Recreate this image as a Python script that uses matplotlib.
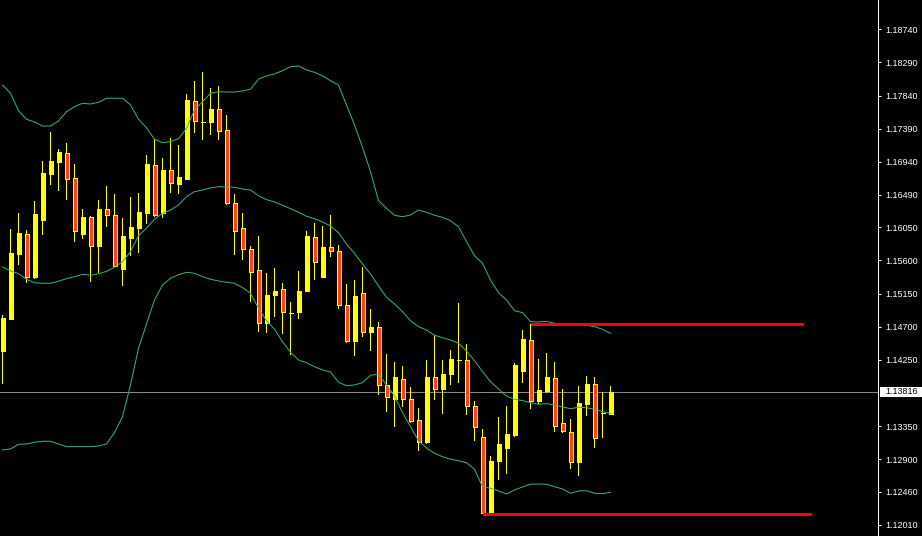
import matplotlib
matplotlib.use("Agg")
import matplotlib.pyplot as plt
from matplotlib.patches import Rectangle
from matplotlib.transforms import blended_transform_factory

plt.rcParams['font.family'] = ['Liberation Sans', 'DejaVu Sans']

# ---------------- data ----------------
opens = [1.14374, 1.14804, 1.15692, 1.15959, 1.15375, 1.16149, 1.16774, 1.16937, 1.17060, 1.16720,
         1.15963, 1.16190, 1.15800, 1.16299, 1.16217, 1.15484, 1.15909, 1.16041, 1.16244, 1.16897,
         1.16249, 1.16829, 1.16642, 1.16706, 1.17762, 1.17481, 1.17481, 1.17657, 1.17372, 1.16376,
         1.16037, 1.15751, 1.15466, 1.14754, 1.15126, 1.15208, 1.14890, 1.14895, 1.15181, 1.15918,
         1.15379, 1.15778, 1.15724, 1.14991, 1.14510, 1.15154, 1.14632, 1.14692, 1.13904, 1.13714,
         1.13985, 1.13714, 1.13428, 1.13129, 1.14012, 1.13858, 1.14053, 1.14247, 1.14243, 1.13618,
         1.13197, 1.12165, 1.12879, 1.13056, 1.13229, 1.14095, 1.14519, 1.13695, 1.13822, 1.13999,
         1.13388, 1.13265, 1.12866, 1.13650, 1.13917, 1.13523, 1.13518]
highs = [1.14859, 1.16027, 1.16244, 1.16013, 1.16407, 1.16951, 1.17345, 1.17114, 1.17195, 1.16910,
         1.16299, 1.16208, 1.16421, 1.16611, 1.16503, 1.16177, 1.16462, 1.16516, 1.17032, 1.17250,
         1.16992, 1.17263, 1.17168, 1.17861, 1.18038, 1.18156, 1.17943, 1.17970, 1.17576, 1.16503,
         1.16244, 1.15796, 1.15932, 1.15429, 1.15497, 1.15293, 1.15035, 1.15457, 1.16000, 1.16109,
         1.16068, 1.16217, 1.15810, 1.15280, 1.15334, 1.15515, 1.14940, 1.14764, 1.14329, 1.14220,
         1.14166, 1.13877, 1.13599, 1.14247, 1.14583, 1.14247, 1.14383, 1.15018, 1.14465, 1.13686,
         1.13306, 1.12943, 1.13473, 1.13623, 1.14211, 1.14655, 1.14737, 1.14261, 1.14343, 1.14220,
         1.13853, 1.13446, 1.13894, 1.14030, 1.14017, 1.13817, 1.13894]
lows = [1.13921, 1.14791, 1.15538, 1.15298, 1.15348, 1.15946, 1.16625, 1.16543, 1.16425, 1.15855,
        1.15891, 1.15311, 1.15425, 1.16058, 1.15511, 1.15257, 1.15664, 1.15705, 1.16095, 1.16194,
        1.16181, 1.16516, 1.16503, 1.16693, 1.17335, 1.17236, 1.17304, 1.17236, 1.16353, 1.15674,
        1.15606, 1.15039, 1.14632, 1.14618, 1.14836, 1.14597, 1.14315, 1.14800, 1.15171, 1.15338,
        1.15372, 1.15651, 1.14944, 1.14482, 1.14306, 1.14556, 1.14374, 1.13772, 1.13545, 1.13341,
        1.13613, 1.13388, 1.13015, 1.13106, 1.13704, 1.13518, 1.13912, 1.13939, 1.13504, 1.13151,
        1.12159, 1.12162, 1.12617, 1.12703, 1.13205, 1.13939, 1.13586, 1.13650, 1.13795, 1.13273,
        1.13252, 1.12771, 1.12676, 1.13491, 1.13056, 1.13192, 1.13500]
closes = [1.14814, 1.15701, 1.15973, 1.15371, 1.16231, 1.16788, 1.16951, 1.17073, 1.16710, 1.16004,
          1.16190, 1.15800, 1.16299, 1.16221, 1.15524, 1.15932, 1.16054, 1.16258, 1.16910, 1.16221,
          1.16829, 1.16648, 1.16734, 1.17780, 1.17490, 1.17481, 1.17657, 1.17362, 1.16376, 1.16000,
          1.15751, 1.15439, 1.14746, 1.15126, 1.15185, 1.14895, 1.14890, 1.15185, 1.15932, 1.15575,
          1.15783, 1.15724, 1.14991, 1.14510, 1.15113, 1.14624, 1.14692, 1.13904, 1.13741, 1.14012,
          1.13714, 1.13415, 1.13129, 1.14012, 1.13858, 1.14053, 1.14257, 1.14247, 1.13618, 1.13333,
          1.12165, 1.12871, 1.13106, 1.13242, 1.14180, 1.14533, 1.13686, 1.13840, 1.14012, 1.13347,
          1.13279, 1.12858, 1.13659, 1.13921, 1.13184, 1.13523, 1.13816]

upper_band = [1.17983, 1.17871, 1.17634, 1.17517, 1.17481, 1.17426, 1.17426, 1.17494, 1.17621, 1.17689,
              1.17735, 1.17725, 1.17748, 1.17803, 1.17803, 1.17803, 1.17712, 1.17517, 1.17403, 1.17246,
              1.17199, 1.17213, 1.17254, 1.17395, 1.17644, 1.17756, 1.17871, 1.17892, 1.17888, 1.17888,
              1.17902, 1.17925, 1.18065, 1.18106, 1.18133, 1.18178, 1.18232, 1.18241, 1.18187, 1.18156,
              1.18106, 1.18042, 1.17983, 1.17712, 1.17440, 1.17137, 1.16806, 1.16412, 1.16308, 1.16213,
              1.16194, 1.16217, 1.16285, 1.16254, 1.16213, 1.16186, 1.16140, 1.16058, 1.15855, 1.15664,
              1.15561, 1.15334, 1.15162, 1.15063, 1.14917, 1.14890, 1.14768, 1.14764, 1.14773, 1.14746,
              1.14719, 1.14719, 1.14719, 1.14719, 1.14700, 1.14665, 1.14610]
middle_band = [1.15511, 1.15457, 1.15420, 1.15344, 1.15298, 1.15289, 1.15289, 1.15317, 1.15352, 1.15379,
               1.15412, 1.15398, 1.15416, 1.15452, 1.15507, 1.15583, 1.15719, 1.15936, 1.16037, 1.16159,
               1.16240, 1.16285, 1.16353, 1.16466, 1.16534, 1.16557, 1.16584, 1.16602, 1.16598, 1.16594,
               1.16570, 1.16557, 1.16479, 1.16425, 1.16394, 1.16349, 1.16303, 1.16254, 1.16200, 1.16167,
               1.16122, 1.16068, 1.15977, 1.15823, 1.15697, 1.15552, 1.15416, 1.15253, 1.15099, 1.15008,
               1.14904, 1.14781, 1.14700, 1.14655, 1.14583, 1.14550, 1.14519, 1.14474, 1.14370, 1.14238,
               1.14089, 1.13953, 1.13853, 1.13758, 1.13714, 1.13695, 1.13667, 1.13646, 1.13654, 1.13636,
               1.13609, 1.13586, 1.13605, 1.13599, 1.13578, 1.13545, 1.13523]
lower_band = [1.13025, 1.13038, 1.13102, 1.13106, 1.13129, 1.13143, 1.13143, 1.13106, 1.13070, 1.13070,
              1.13070, 1.13070, 1.13079, 1.13106, 1.13260, 1.13477, 1.13908, 1.14406, 1.14737, 1.15063,
              1.15266, 1.15357, 1.15406, 1.15439, 1.15425, 1.15379, 1.15344, 1.15321, 1.15303, 1.15289,
              1.15230, 1.15154, 1.14950, 1.14781, 1.14665, 1.14496, 1.14352, 1.14247, 1.14211, 1.14156,
              1.14112, 1.14084, 1.13945, 1.13898, 1.13908, 1.13939, 1.14040, 1.14053, 1.13908, 1.13758,
              1.13532, 1.13341, 1.13151, 1.13052, 1.12980, 1.12934, 1.12898, 1.12879, 1.12852, 1.12763,
              1.12526, 1.12504, 1.12468, 1.12427, 1.12481, 1.12522, 1.12559, 1.12563, 1.12559, 1.12526,
              1.12495, 1.12437, 1.12468, 1.12472, 1.12437, 1.12431, 1.12450]

price_ticks = [1.18740, 1.18290, 1.17840, 1.17390, 1.16940, 1.16490, 1.16050, 1.15600,
               1.15150, 1.14700, 1.14250, 1.13350, 1.12900, 1.12460, 1.12010]
current_price = 1.13816
resistance_level = 1.14737
resistance_span = (66, 100.06)
support_level = 1.12159
support_span = (60, 101.06)
y_range = (1.11856, 1.19138)

# ---------------- styling ----------------
BULL = '#FFFF00'
BEAR_FILL = '#FF4500'
BAND = '#3CB371'
PX = 0.72  # one pixel in points at dpi 100

fig = plt.figure(figsize=(9.22, 5.36), dpi=100, facecolor='black')
ax = fig.add_axes([0, 0, 878 / 922, 1])
ax.set_facecolor('black')

n = len(opens)
xs = list(range(n))
ax.set_xlim(-0.3125, -0.3125 + 878 / 8)
ax.set_ylim(*y_range)

# bid line
ax.axhline(current_price, color='#8A8A8A', linewidth=PX, zorder=1, antialiased=False)

# wicks (1-pixel wide filled bars)
wick_bars = ax.bar(xs, [h - l for h, l in zip(highs, lows)], bottom=lows, width=1 / 8,
                   color=BULL, linewidth=0, zorder=3)
for b in wick_bars:
    b.set_antialiased(False)

# bodies
bottoms = [min(o, c) for o, c in zip(opens, closes)]
heights = [abs(c - o) for o, c in zip(opens, closes)]
fills = [BULL if c >= o else BEAR_FILL for o, c in zip(opens, closes)]
bars = ax.bar(xs, heights, bottom=bottoms, width=0.5, color=fills, edgecolor=BULL,
              linewidth=PX, zorder=4)
for b in bars:
    b.set_antialiased(False)

# Bollinger bands
for band in (upper_band, middle_band, lower_band):
    ax.plot(xs, band, color=BAND, linewidth=PX, zorder=5)

# horizontal levels
ax.hlines(resistance_level, *resistance_span, colors='#FF0000', linewidth=3 * PX,
          zorder=6, antialiased=False)
ax.hlines(support_level, *support_span, colors='#FF0000', linewidth=3 * PX,
          zorder=6, antialiased=False)

# axes styling
for side in ('top', 'left', 'bottom'):
    ax.spines[side].set_visible(False)
ax.spines['right'].set_color('white')
ax.spines['right'].set_linewidth(PX)
ax.set_xticks([])
ax.yaxis.tick_right()
ax.set_yticks(price_ticks)
ax.set_yticklabels([f"{t:.5f}" for t in price_ticks])
ax.tick_params(axis='y', colors='white', length=3 * PX, width=PX, pad=3,
               labelsize=6.5, direction='out')

# current price label box
trans = blended_transform_factory(ax.transAxes, ax.transData)
unit = (y_range[1] - y_range[0]) / 536.0
ax.add_patch(Rectangle((1 + 2 / 878, current_price - 5.2 * unit), 44 / 878, 10.4 * unit,
                       transform=trans, facecolor='white', edgecolor='none',
                       clip_on=False, zorder=10))
ax.text(1 + 7 / 878, current_price, f"{current_price:.5f}", transform=trans,
        ha='left', va='center', fontsize=6.5, color='black', clip_on=False, zorder=11)

fig.savefig('out.png', dpi=100, facecolor='black')
